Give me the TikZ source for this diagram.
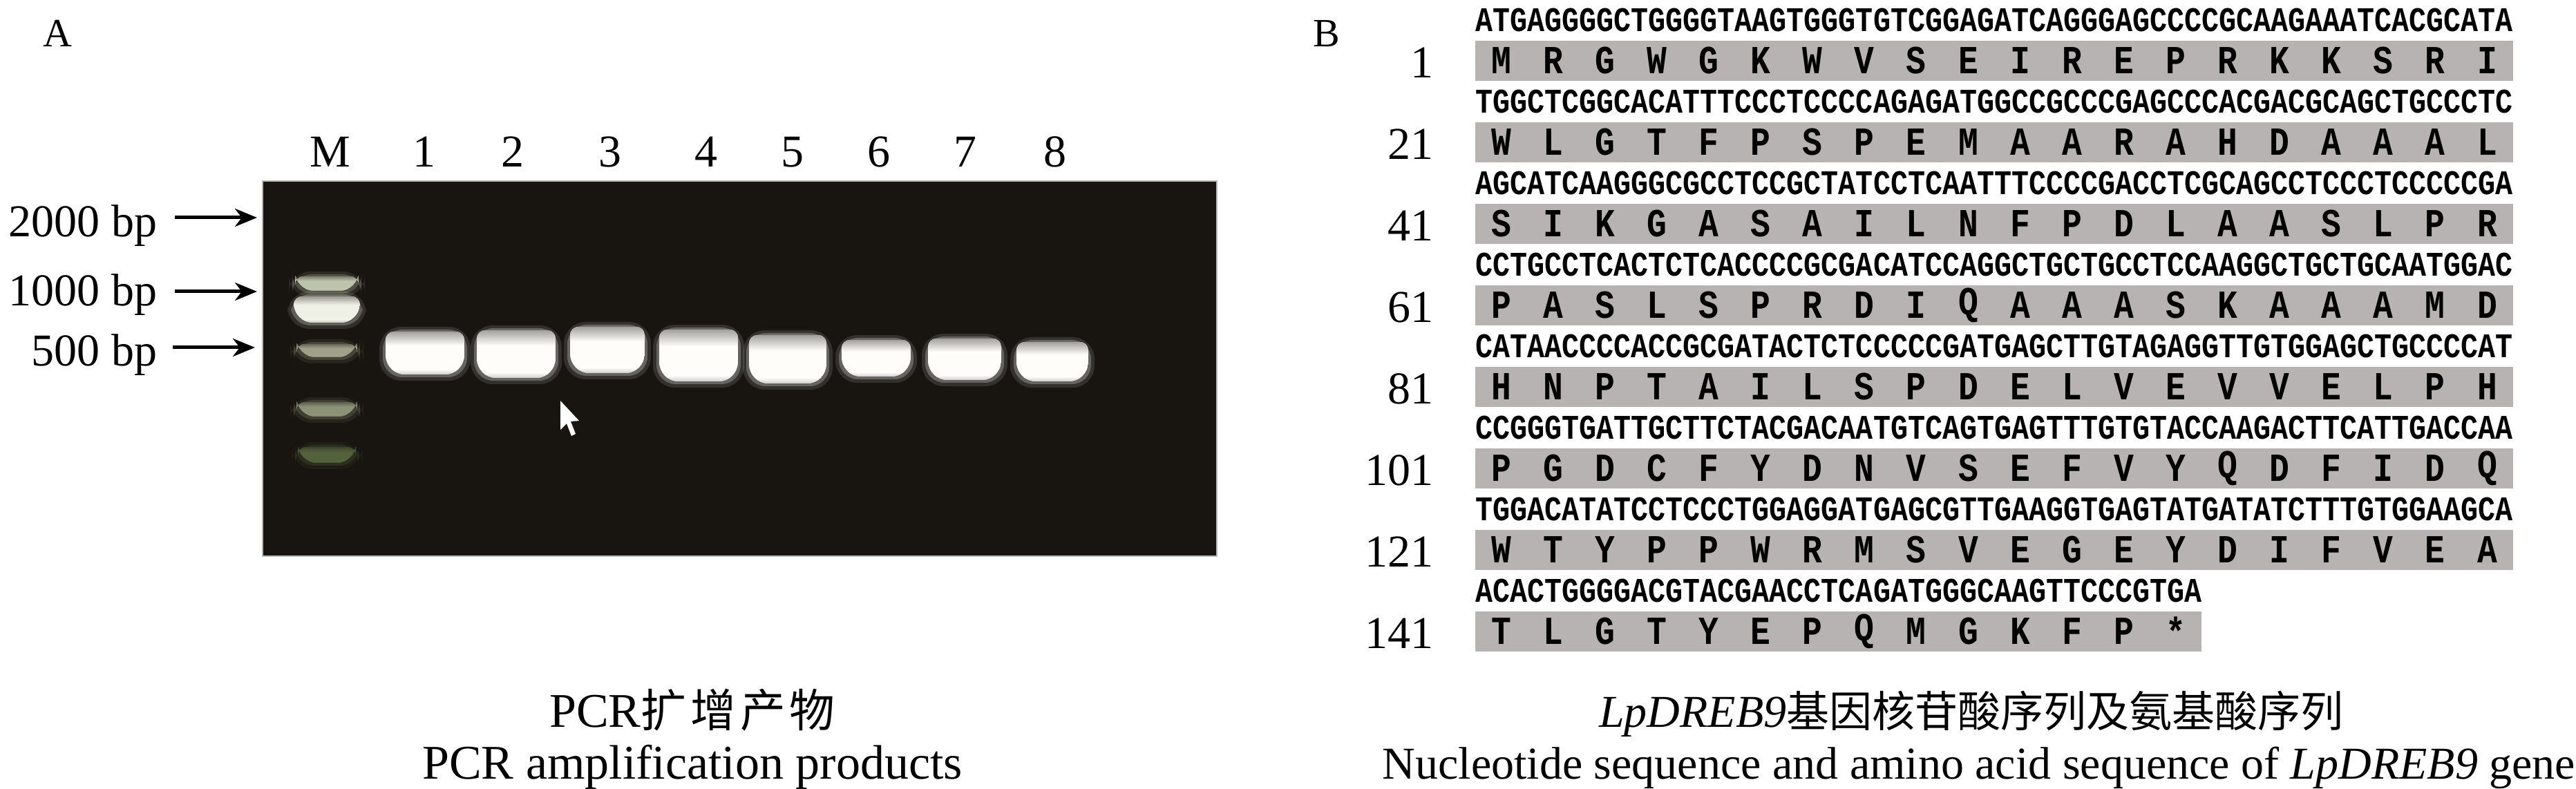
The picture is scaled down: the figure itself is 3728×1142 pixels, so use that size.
\documentclass[tikz,border=0pt]{standalone}
\usepackage{fontspec}
\usepackage{graphicx}
\usetikzlibrary{arrows.meta}
\setmainfont{Liberation Serif}
\newfontfamily\cjk[Scale=0.94]{Noto Sans CJK SC}
\newfontfamily\seqfont{Liberation Mono}
\definecolor{gel}{RGB}{24,21,17}
\definecolor{aabox}{RGB}{184,179,179}
\definecolor{mkA}{RGB}{190,196,172}
\definecolor{mkB}{RGB}{240,241,230}
\definecolor{mkC}{RGB}{160,160,138}
\definecolor{mkD}{RGB}{140,146,118}
\definecolor{mkE}{RGB}{84,98,60}
\definecolor{bandw}{RGB}{254,253,250}

\newcommand\gelband[6]{% name, cx, halfw, top, bottom, color
  \fill[#6, opacity=0.12, rounded corners=8pt] (#2-#3-9,#4-7) rectangle (#2+#3+9,#5+9);
  \fill[#6, opacity=0.25, rounded corners=7pt] (#2-#3-4,#4-3) rectangle (#2+#3+4,#5+4);
  \begin{scope}
    \clip (#2-#3,#4) [rounded corners=3pt] -- (#2+#3,#4) [rounded corners=7pt] -- (#2+#3,#5) -- (#2-#3,#5) [rounded corners=3pt] -- cycle;
    \fill[#6] (#2-#3,#4) rectangle (#2+#3,#5);
    \shade[top color=#6!60!gel, bottom color=#6] (#2-#3,#4) rectangle (#2+#3,{#4+0.32*(#5-#4)});
    \shade[top color=#6, bottom color=#6!80!gel] (#2-#3,{#5-0.12*(#5-#4)}) rectangle (#2+#3,#5);
  \end{scope}
  \coordinate (#1) at (#2,{0.5*(#4+#5)});}

\newcommand\seqrow[5]{% row index, number, dna, amino acids, box right
  \pgfmathsetmacro\rtop{59+118*#1}
  \fill[aabar] (2135,\rtop) rectangle (#5,\rtop+58);
  \node[dna] (dna#1) at (2135,\rtop-30) {\scalebox{1}[1.2]{#3}};
  \node[numlab] (num#1) at (2075,\rtop+54) {#2};
  \foreach \a [count=\i from 0] in {#4} {%
    \node[aa] (aa#1-\i) at ({2172.55+75.1*\i},\rtop+29) {\scalebox{1}[1.2]{\a}};}%
}

\begin{document}
\begin{tikzpicture}[x=0.25pt,y=-0.25pt,
  panel/.style={font=\fontsize{14.5pt}{16pt}\selectfont, inner sep=0pt, anchor=base west},
  lanelab/.style={font=\fontsize{16.5pt}{18pt}\selectfont, inner sep=0pt, anchor=base},
  bplab/.style={font=\fontsize{16.5pt}{18pt}\selectfont, inner sep=0pt, anchor=base east},
  bparrow/.style={line width=1.25pt, -{Stealth[length=8pt,width=6.5pt,inset=2.5pt]}},
  numlab/.style={font=\fontsize{16.5pt}{18pt}\selectfont, inner sep=0pt, anchor=base east},
  dna/.style={font=\seqfont\bfseries\fontsize{10.42pt}{12pt}\selectfont, inner sep=0pt, anchor=west},
  aa/.style={font=\seqfont\bfseries\fontsize{12pt}{14pt}\selectfont, inner sep=0pt},
  aabar/.style={fill=aabox},
  capA/.style={font=\fontsize{17.5pt}{20pt}\selectfont, inner sep=0pt, anchor=base},
  capB/.style={font=\fontsize{16.5pt}{18pt}\selectfont, inner sep=0pt, anchor=base}]
\useasboundingbox (0,0) rectangle (3728,1142);
\fill[white] (0,0) rectangle (3728,1142);

% ---------- panel A ----------
\node[panel] (pA) at (62,68) {A};
\fill[gel] (380,262) rectangle (1761,805);
\draw[gray!55, line width=0.4pt] (380,262) rectangle (1761,805);

\node[lanelab] (lM) at (478,242) {M};
\foreach \x [count=\n] in {614,742,883,1022,1147,1272,1397,1527}
  \node[lanelab] (lane\n) at (\x,242) {\n};

\node[bplab] (l2000) at (228,343) {2000 bp};
\node[bplab] (l1000) at (228,443) {1000 bp};
\node[bplab] (l500) at (228,530) {500 bp};
\coordinate (a2000s) at (253,315); \coordinate (a2000e) at (372,315);
\coordinate (a1000s) at (253,422); \coordinate (a1000e) at (372,422);
\coordinate (a500s) at (250,503);  \coordinate (a500e) at (369,503);
\draw[bparrow] (a2000s) -- (a2000e);
\draw[bparrow] (a1000s) -- (a1000e);
\draw[bparrow] (a500s) -- (a500e);

% marker lane
\gelband{m1}{473}{46}{400}{421}{mkA}
\gelband{m2}{473}{48}{429}{467}{mkB}
\gelband{m3}{473}{44}{498}{517}{mkC}
\gelband{m4}{473}{44}{582}{603}{mkD}
\gelband{m5}{473}{42}{647}{670}{mkE}
% sample lanes
\gelband{b1}{615}{57}{480}{542}{bandw}
\gelband{b2}{747}{57}{478}{547}{bandw}
\gelband{b3}{879}{54}{473}{540}{bandw}
\gelband{b4}{1011}{57}{477}{552}{bandw}
\gelband{b5}{1140}{56}{485}{555}{bandw}
\gelband{b6}{1268}{50}{492}{545}{bandw}
\gelband{b7}{1396}{53}{490}{550}{bandw}
\gelband{b8}{1523}{52}{495}{552}{bandw}
% mouse pointer
\fill[white] (811,580) -- (811,622) -- (820,613) -- (827,631) -- (833,628) -- (826,610) -- (838,609) -- cycle;

\node[capA] (capA1) at (1002,1053) {PCR{\cjk 扩\hspace{1.5pt}增\hspace{1.5pt}产\hspace{1.5pt}物}};
\node[capA] (capA2) at (1002,1127) {PCR amplification products};

% ---------- panel B ----------
\node[panel] (pB) at (1900,68) {B};
\seqrow{0}{1}{ATGAGGGGCTGGGGTAAGTGGGTGTCGGAGATCAGGGAGCCCCGCAAGAAATCACGCATA}{M,R,G,W,G,K,W,V,S,E,I,R,E,P,R,K,K,S,R,I}{3637}
\seqrow{1}{21}{TGGCTCGGCACATTTCCCTCCCCAGAGATGGCCGCCCGAGCCCACGACGCAGCTGCCCTC}{W,L,G,T,F,P,S,P,E,M,A,A,R,A,H,D,A,A,A,L}{3637}
\seqrow{2}{41}{AGCATCAAGGGCGCCTCCGCTATCCTCAATTTCCCCGACCTCGCAGCCTCCCTCCCCCGA}{S,I,K,G,A,S,A,I,L,N,F,P,D,L,A,A,S,L,P,R}{3637}
\seqrow{3}{61}{CCTGCCTCACTCTCACCCCGCGACATCCAGGCTGCTGCCTCCAAGGCTGCTGCAATGGAC}{P,A,S,L,S,P,R,D,I,Q,A,A,A,S,K,A,A,A,M,D}{3637}
\seqrow{4}{81}{CATAACCCCACCGCGATACTCTCCCCCGATGAGCTTGTAGAGGTTGTGGAGCTGCCCCAT}{H,N,P,T,A,I,L,S,P,D,E,L,V,E,V,V,E,L,P,H}{3637}
\seqrow{5}{101}{CCGGGTGATTGCTTCTACGACAATGTCAGTGAGTTTGTGTACCAAGACTTCATTGACCAA}{P,G,D,C,F,Y,D,N,V,S,E,F,V,Y,Q,D,F,I,D,Q}{3637}
\seqrow{6}{121}{TGGACATATCCTCCCTGGAGGATGAGCGTTGAAGGTGAGTATGATATCTTTGTGGAAGCA}{W,T,Y,P,P,W,R,M,S,V,E,G,E,Y,D,I,F,V,E,A}{3637}
\seqrow{7}{141}{ACACTGGGGACGTACGAACCTCAGATGGGCAAGTTCCCGTGA}{T,L,G,T,Y,E,P,Q,M,G,K,F,P,*}{3186}

\node[capB] (capB1) at (2853,1053) {\textit{LpDREB9}{\cjk 基因核苷酸序列及氨基酸序列}};
\node[capB] (capB2) at (2864,1127) {Nucleotide sequence and amino acid sequence of \textit{LpDREB9} gene};
\end{tikzpicture}
\end{document}
